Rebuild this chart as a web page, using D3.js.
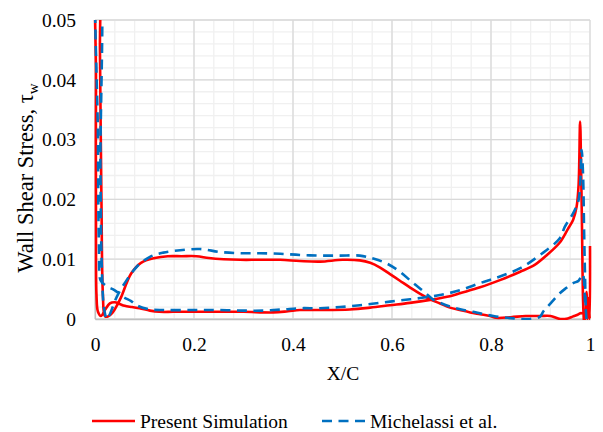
<!DOCTYPE html>
<html>
<head>
<meta charset="utf-8">
<script src="https://cdn.jsdelivr.net/npm/d3@7"></script>
<style>
  html, body { margin: 0; padding: 0; background: #fff; }
  svg { display: block; }
  text { font-family: "Liberation Serif", "Times New Roman", serif; fill: #000; }
</style>
</head>
<body>
<svg id="chart" width="603" height="432"></svg>
<script>
// ---- data (X/C, wall shear stress) ----
// Present Simulation: one continuous curve, trailing edge -> suction side -> leading edge -> pressure side -> trailing edge
const simX = [1.000, 0.9995, 0.997, 0.995, 0.993, 0.991, 0.989, 0.986, 0.982, 0.975, 0.965, 0.955, 0.94, 0.92, 0.9, 0.87, 0.84, 0.81, 0.798, 0.778, 0.758, 0.737, 0.717, 0.697, 0.677, 0.657, 0.636, 0.616, 0.596, 0.576, 0.556, 0.535, 0.5, 0.455, 0.414, 0.374, 0.33, 0.293, 0.26, 0.23, 0.205, 0.175, 0.147, 0.121, 0.093, 0.073, 0.053, 0.0465, 0.035, 0.026, 0.020, 0.016, 0.013, 0.010, 0.008, 0.004, 0.002, 0.002, 0.003, 0.006, 0.012, 0.020, 0.030, 0.040, 0.050, 0.060, 0.075, 0.090, 0.111, 0.13, 0.158, 0.205, 0.25, 0.3, 0.36, 0.39, 0.414, 0.455, 0.515, 0.556, 0.596, 0.636, 0.677, 0.717, 0.737, 0.778, 0.818, 0.859, 0.889, 0.913, 0.939, 0.955, 0.966, 0.973, 0.977, 0.980, 0.982, 0.984, 0.986, 0.988];
const simY = [0.0122, 0.0, 0.0035, 0.0, 0.0045, 0.0, 0.0015, 0.0009, 0.0010, 0.0007, 0.0004, 0.0001, 0.0, 0.0005, 0.0005, 0.0005, 0.0003, 0.0002, 0.0005, 0.0008, 0.0011, 0.0015, 0.0019, 0.0026, 0.0033, 0.0042, 0.0053, 0.0064, 0.0075, 0.0086, 0.0094, 0.0098, 0.0099, 0.0096, 0.0097, 0.0099, 0.0099, 0.0099, 0.0100, 0.0102, 0.0105, 0.0105, 0.0105, 0.0102, 0.0094, 0.0076, 0.0037, 0.0026, 0.0010, 0.0004, 0.0005, 0.004, 0.02, 0.045, 0.06, 0.06, 0.04, 0.015, 0.004, 0.0012, 0.0005, 0.0015, 0.0026, 0.0028, 0.0025, 0.0022, 0.0020, 0.0018, 0.0014, 0.0012, 0.0012, 0.0012, 0.0012, 0.0012, 0.0011, 0.0013, 0.0015, 0.0015, 0.0016, 0.0019, 0.0023, 0.0027, 0.0032, 0.0038, 0.0043, 0.0053, 0.0065, 0.0079, 0.0091, 0.0107, 0.0128, 0.0150, 0.0166, 0.0188, 0.0225, 0.0330, 0.0255, 0.0143, 0.003, -0.001];

// Michelassi et al.
const michX = [0.993, 0.990, 0.985, 0.977, 0.966, 0.949, 0.939, 0.919, 0.906, 0.899, 0.879, 0.846, 0.805, 0.764, 0.724, 0.697, 0.684, 0.664, 0.643, 0.616, 0.589, 0.562, 0.535, 0.495, 0.455, 0.414, 0.374, 0.333, 0.293, 0.253, 0.212, 0.172, 0.138, 0.111, 0.084, 0.064, 0.044, 0.030, 0.024, 0.018, 0.014, 0.011, 0.009, 0.005, 0.006, 0.008, 0.011, 0.016, 0.025, 0.040, 0.057, 0.073, 0.084, 0.111, 0.145, 0.2, 0.25, 0.3, 0.34, 0.38, 0.414, 0.455, 0.495, 0.535, 0.576, 0.616, 0.657, 0.697, 0.737, 0.778, 0.818, 0.859, 0.899, 0.939, 0.949, 0.966, 0.977, 0.983, 0.986, 0.988, 0.990, 0.992, 0.993];
const michY = [0.0, 0.003, 0.0075, 0.0064, 0.0060, 0.0050, 0.0043, 0.0025, 0.0013, 0.0004, 0.0, 0.0001, 0.0005, 0.0012, 0.0019, 0.0027, 0.0032, 0.0046, 0.0060, 0.0079, 0.0093, 0.0101, 0.0106, 0.0106, 0.0106, 0.0107, 0.0109, 0.0110, 0.0110, 0.0112, 0.0117, 0.0115, 0.0111, 0.0104, 0.0087, 0.0065, 0.0037, 0.0008, 0.0, 0.002, 0.008, 0.025, 0.06, 0.06, 0.03, 0.012, 0.0065, 0.006, 0.0054, 0.0048, 0.0037, 0.0030, 0.0023, 0.0016, 0.0015, 0.0015, 0.0015, 0.0014, 0.0014, 0.0016, 0.0018, 0.0018, 0.0020, 0.0023, 0.0027, 0.0031, 0.0035, 0.0040, 0.0048, 0.0060, 0.0071, 0.0085, 0.0107, 0.0135, 0.0154, 0.0177, 0.0199, 0.0283, 0.0240, 0.0150, 0.0070, 0.0010, 0.0];

const xTicks = [0, 0.2, 0.4, 0.6, 0.8, 1];
const yTicks = [0, 0.01, 0.02, 0.03, 0.04, 0.05];
const seriesNames = ["Present Simulation", "Michelassi et al."];
const xTitle = "X/C";
const yTitle = "Wall Shear Stress, τ";
const yTitleSub = "w";

// ---- layout ----
const FONT = '"Liberation Serif", "Times New Roman", serif';
const svg = d3.select("#chart");
const L = 95, R = 590, T = 20, B = 319;
const x = d3.scaleLinear().domain([0, 1]).range([L, R]);
const y = d3.scaleLinear().domain([0, 0.05]).range([B, T]);

// minor gridlines
const xMinor = d3.range(0, 1.0001, 0.04);
const yMinor = d3.range(0, 0.05001, 0.002);
const grid = svg.append("g");
grid.selectAll(".vmin").data(xMinor).enter().append("line")
  .attr("x1", d => x(d)).attr("x2", d => x(d)).attr("y1", T).attr("y2", B)
  .attr("stroke", "#f0f0f0").attr("stroke-width", 1.3);
grid.selectAll(".hmin").data(yMinor).enter().append("line")
  .attr("x1", L).attr("x2", R).attr("y1", d => y(d)).attr("y2", d => y(d))
  .attr("stroke", "#f0f0f0").attr("stroke-width", 1.3);
// major gridlines
grid.selectAll(".vmaj").data(xTicks).enter().append("line")
  .attr("x1", d => x(d)).attr("x2", d => x(d)).attr("y1", T).attr("y2", B)
  .attr("stroke", "#d9d9d9").attr("stroke-width", 1.3);
grid.selectAll(".hmaj").data(yTicks).enter().append("line")
  .attr("x1", L).attr("x2", R).attr("y1", d => y(d)).attr("y2", d => y(d))
  .attr("stroke", "#d9d9d9").attr("stroke-width", 1.3);

// axes
const xAxis = svg.append("g").attr("transform", `translate(0,${B})`)
  .attr("font-family", FONT).attr("font-size", 19.5)
  .call(d3.axisBottom(x).tickValues(xTicks).tickSize(0).tickPadding(18).tickFormat(d => d3.format("")(d)));
const yAxis = svg.append("g").attr("transform", `translate(${L},0)`)
  .attr("font-family", FONT).attr("font-size", 19.5)
  .call(d3.axisLeft(y).tickValues(yTicks).tickSize(0).tickPadding(19).tickFormat(d => d3.format("")(d)));
[xAxis, yAxis].forEach(a => {
  a.attr("font-family", FONT).attr("font-size", 19.5);
  a.select(".domain").attr("stroke", "#bfbfbf").attr("stroke-width", 1.3);
  a.selectAll("text").style("font-family", FONT).style("font-size", "19.5px").attr("fill", "#000");
});

// clip
svg.append("clipPath").attr("id", "clip").append("rect")
  .attr("x", L - 2).attr("y", T).attr("width", R - L + 4).attr("height", B - T + 1);

const line = d3.line().x(d => x(d[0])).y(d => y(d[1])).curve(d3.curveCatmullRom.alpha(0.5));
const simData = simX.map((v, i) => [v, simY[i]]);
const michData = michX.map((v, i) => [v, michY[i]]);

const plot = svg.append("g").attr("clip-path", "url(#clip)");
plot.append("path").datum(simData).attr("d", line)
  .attr("fill", "none").attr("stroke", "#ff0000").attr("stroke-width", 2.6).attr("stroke-linejoin", "round");
plot.append("path").datum(michData).attr("d", line)
  .attr("fill", "none").attr("stroke", "#0070c0").attr("stroke-width", 2.6)
  .attr("stroke-dasharray", "10,6.5");

// titles
svg.append("text").attr("x", (L + R) / 2 + 0.5).attr("y", 380).attr("text-anchor", "middle")
  .style("font-family", FONT).style("font-size", "19.5px").text(xTitle);
const yt = svg.append("text").attr("transform", `translate(33,178) rotate(-90)`)
  .attr("text-anchor", "middle").style("font-family", FONT).style("font-size", "22.5px");
yt.append("tspan").text(yTitle);
yt.append("tspan").attr("dy", 5).style("font-size", "15px").text(yTitleSub);

// legend
const lg = svg.append("g");
lg.append("line").attr("x1", 92).attr("x2", 135).attr("y1", 421).attr("y2", 421)
  .attr("stroke", "#ff0000").attr("stroke-width", 2.6);
lg.append("text").attr("x", 140).attr("y", 427.5).style("font-family", FONT).style("font-size", "19.5px").text(seriesNames[0]);
lg.append("line").attr("x1", 322).attr("x2", 366).attr("y1", 421).attr("y2", 421)
  .attr("stroke", "#0070c0").attr("stroke-width", 2.6).attr("stroke-dasharray", "10,6.5");
lg.append("text").attr("x", 370).attr("y", 427.5).style("font-family", FONT).style("font-size", "19.5px").text(seriesNames[1]);
</script>
</body>
</html>
